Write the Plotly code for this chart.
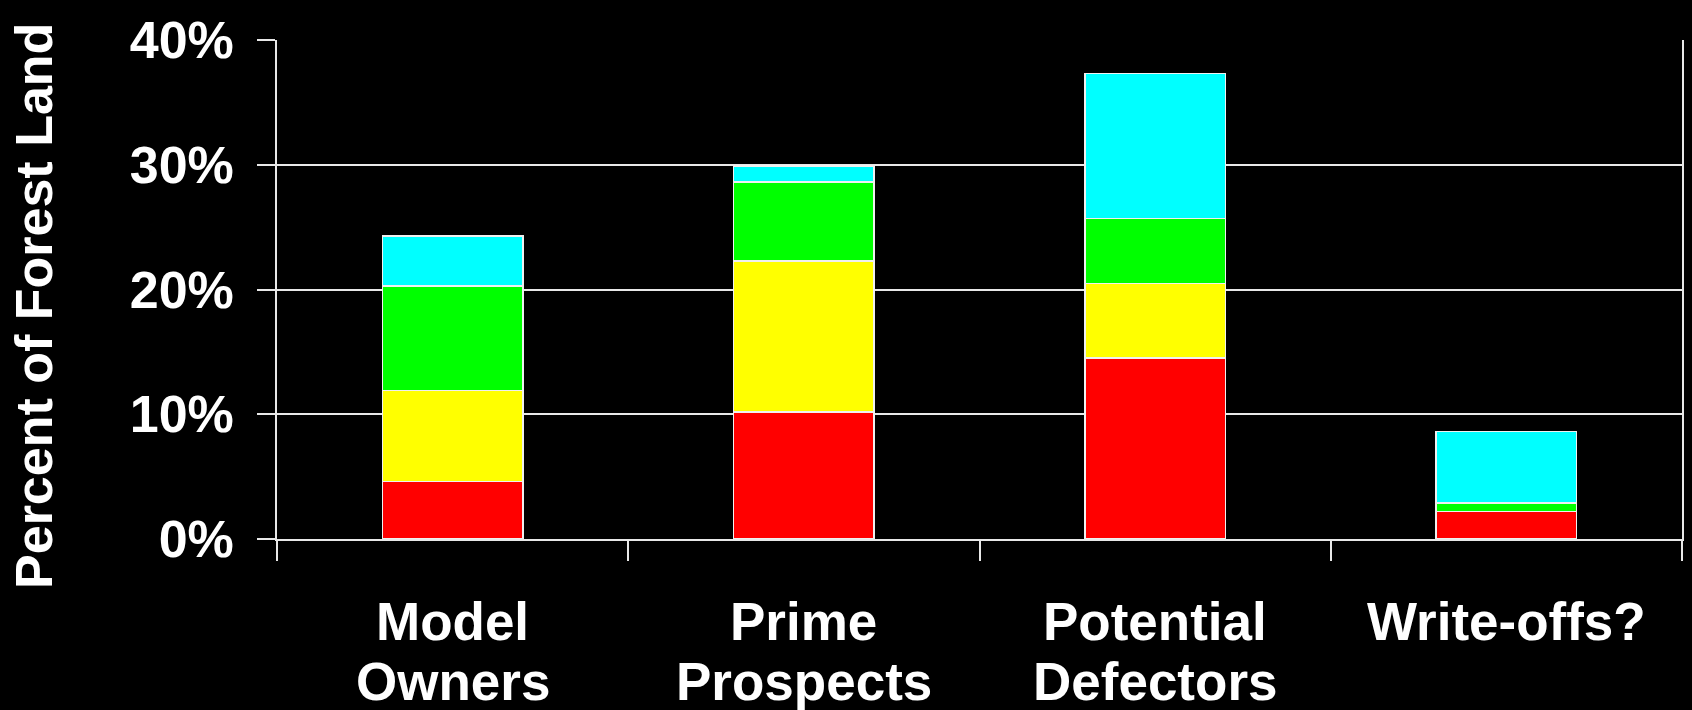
import plotly.graph_objects as go

# Owner segments along the x axis (label lines separated by <br>)
categories = ["Model<br>Owners", "Prime<br>Prospects", "Potential<br>Defectors", "Write-offs?"]

# Percent of forest land held in each band (stacked bottom to top)
red_vals = [4.6, 10.2, 14.5, 2.2]
yellow_vals = [7.3, 12.1, 6.0, 0.0]
green_vals = [8.4, 6.3, 5.2, 0.7]
cyan_vals = [4.0, 1.3, 11.6, 5.7]

y_ticks = [0, 10, 20, 30, 40]
y_tick_text = ["0%", "10%", "20%", "30%", "40%"]

series = [
    (red_vals, "#ff0000"),
    (yellow_vals, "#ffff00"),
    (green_vals, "#00ff00"),
    (cyan_vals, "#00ffff"),
]

FONT = "Liberation Sans, Arial, Helvetica, sans-serif"
LABEL_FONT = dict(family=FONT, size=53, color="#ffffff", weight="bold")

fig = go.Figure()
for vals, color in series:
    fig.add_trace(go.Bar(
        x=categories,
        y=vals,
        marker=dict(color=color, line=dict(color="#f0f0f0", width=1.5)),
        showlegend=False,
        hoverinfo="skip",
    ))

fig.update_layout(
    width=1692,
    height=710,
    barmode="stack",
    bargap=0.6,
    paper_bgcolor="#000000",
    plot_bgcolor="#000000",
    margin=dict(l=277, r=8, t=40, b=171),
    font=dict(family=FONT, color="#ffffff"),
)

fig.update_xaxes(
    type="category",
    tickson="boundaries",
    ticks="outside",
    ticklen=20,
    tickwidth=1.5,
    tickcolor="#e8e8e8",
    showline=True,
    linecolor="#e8e8e8",
    linewidth=1.5,
    showgrid=False,
    showticklabels=False,
)

fig.update_yaxes(
    range=[0, 40],
    tickvals=y_ticks,
    ticktext=y_tick_text,
    ticks="outside",
    ticklen=18,
    tickwidth=1.5,
    tickcolor="#e8e8e8",
    showline=True,
    mirror=True,
    linecolor="#e8e8e8",
    linewidth=1.5,
    showgrid=True,
    gridcolor="#e8e8e8",
    gridwidth=1.5,
    zeroline=False,
    ticklabelstandoff=13,
    tickfont=dict(family=FONT, size=52, color="#ffffff", weight="bold"),
)

# Category labels: one annotation per text line for a tight line spacing
for cat in categories:
    for i, line in enumerate(cat.split("<br>")):
        fig.add_annotation(
            text=line,
            x=cat, xref="x",
            y=0, yref="paper",
            yanchor="top", xanchor="center",
            yshift=-51 - 59.5 * i,
            showarrow=False,
            font=LABEL_FONT,
        )

# Vertical axis title, centred a little below the plot middle
fig.add_annotation(
    text="Percent of Forest Land",
    textangle=-90,
    xref="paper", yref="paper",
    x=0, y=0.467,
    xshift=-243,
    xanchor="center", yanchor="middle",
    showarrow=False,
    font=dict(family=FONT, size=52, color="#ffffff", weight="bold"),
)

fig.write_html("out.html")
